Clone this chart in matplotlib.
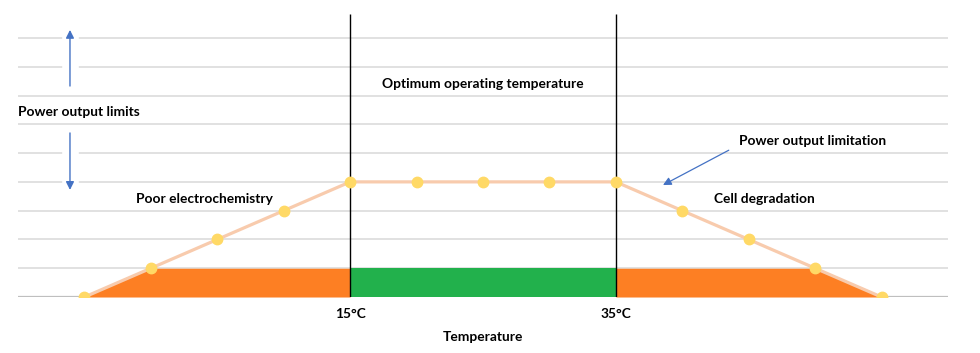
import matplotlib.pyplot as plt
import numpy as np

# temperature (°C) and relative power output
temps = [-5, 0, 5, 10, 15, 20, 25, 30, 35, 40, 45, 50, 55]
power = [0, 1, 2, 3, 4, 4, 4, 4, 4, 3, 2, 1, 0]
band_height = 1
optimum_low, optimum_high = 15, 35
tick_labels = ['15°C', '35°C']

plt.rcParams['font.family'] = ['Lato', 'DejaVu Sans']

fig = plt.figure(figsize=(9.8, 3.53), dpi=100)
ax = fig.add_axes([0.0184, 0.1586, 0.9489, 0.8154])

t = np.array(temps, dtype=float)
p = np.array(power, dtype=float)
band = np.minimum(p, band_height)

# gridlines
for yv in range(1, 10):
    ax.axhline(yv, color='#d9d9d9', lw=1.1, zorder=0)
ax.axhline(0, color='#bfbfbf', lw=1.6, zorder=1)

# filled bands
cold = t <= optimum_low
hot = t >= optimum_high
mid = (t >= optimum_low) & (t <= optimum_high)
ax.fill_between(t[cold], 0, band[cold], color='#fd7f23', lw=0, zorder=2)
ax.fill_between(t[hot], 0, band[hot], color='#fd7f23', lw=0, zorder=2)
ax.fill_between(t[mid], 0, band[mid], color='#22b14c', lw=0, zorder=2)

# vertical markers
ax.vlines([optimum_low, optimum_high], 0, 9.83, color='black', lw=1.0, zorder=3)

# power curve
ax.plot(t, p, color='#f8cbad', lw=2.3, marker='o', markersize=7.5,
        markerfacecolor='#ffd966', markeredgecolor='#ffd966', zorder=4)

# arrows with gap in gridlines
for y0, y1 in [(7.33, 9.28), (5.70, 3.72)]:
    ax.plot([-6.09, -6.09], [min(y0, y1) + 0.15, max(y0, y1) - 0.15],
            color='white', lw=12, zorder=1.5, solid_capstyle='butt')
    ax.annotate('', xy=(-6.09, y1), xytext=(-6.09, y0),
                arrowprops=dict(arrowstyle='-|>', color='#4472c4', lw=1.0,
                                mutation_scale=12, shrinkA=0, shrinkB=0), zorder=5)

ax.annotate('', xy=(38.55, 3.89), xytext=(43.5, 5.1),
            arrowprops=dict(arrowstyle='-|>', color='#4472c4', lw=0.9,
                            mutation_scale=12, shrinkA=0, shrinkB=0), zorder=5)

txt = dict(fontsize=9.9, fontweight='bold', color='black', zorder=6)
ax.text(-10, 6.43, 'Power output limits', ha='left', va='center', **txt)
ax.text(25, 7.4, 'Optimum operating temperature', ha='center', va='center', **txt)
ax.text(4.0, 3.4, 'Poor electrochemistry', ha='center', va='center', **txt)
ax.text(49.8, 5.42, 'Power output limitation', ha='center', va='center', **txt)
ax.text(46.15, 3.4, 'Cell degradation', ha='center', va='center', **txt)

ax.set_xlim(-10, 60)
ax.set_ylim(0, 10)
ax.set_xticks([optimum_low, optimum_high])
ax.set_xticklabels(tick_labels, fontsize=9.9, fontweight='bold')
ax.tick_params(axis='x', length=0, pad=8)
ax.set_yticks([])
ax.set_xlabel('Temperature', fontsize=9.9, fontweight='bold', labelpad=8)
for s in ax.spines.values():
    s.set_visible(False)

fig.savefig('out.png', dpi=100)
